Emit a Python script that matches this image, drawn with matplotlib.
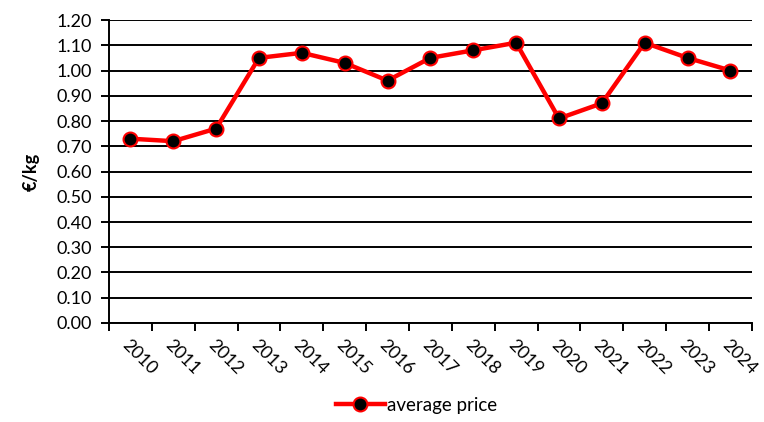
import matplotlib.pyplot as plt
import numpy as np

years = ["2010", "2011", "2012", "2013", "2014", "2015", "2016", "2017",
         "2018", "2019", "2020", "2021", "2022", "2023", "2024"]
avgPrice = [0.73, 0.72, 0.77, 1.05, 1.07, 1.03, 0.96, 1.05,
            1.08, 1.11, 0.81, 0.87, 1.11, 1.05, 1.00]

plt.rcParams['font.family'] = ['Lato', 'DejaVu Sans']

fig = plt.figure(figsize=(7.64, 4.22), dpi=100)
ax = fig.add_axes([0.1427, 0.2346, 0.984 - 0.1427, 0.9526 - 0.2346])

x = np.arange(len(years))
ax.plot(x, avgPrice, color="#ff0000", linewidth=3.2, marker="o",
        markersize=10, markerfacecolor="black", markeredgecolor="#ff0000",
        markeredgewidth=1.5, label="average price", zorder=3)

ax.set_xlim(-0.5, len(years) - 0.5)
ax.set_ylim(0, 1.2)
ax.set_yticks(np.arange(0, 1.21, 0.1))
ax.set_yticklabels(["%.2f" % v for v in np.arange(0, 1.21, 0.1)], fontsize=13)
ax.yaxis.grid(True, color="black", linewidth=1.4)
ax.set_axisbelow(True)

# category boundary ticks, labels in the middle
ax.set_xticks(np.arange(-0.5, len(years), 1.0))
ax.set_xticklabels([])
ax.tick_params(axis="x", which="major", length=6, width=1.4, color="black")
ax.set_xticks(x, minor=True)
ax.set_xticklabels(years, minor=True, rotation=-45, ha="left", va="top",
                   rotation_mode="anchor", fontsize=13)
ax.tick_params(axis="x", which="minor", length=0, pad=10)
ax.tick_params(axis="y", length=6, width=1.4, pad=6)

for s in ["top", "right"]:
    ax.spines[s].set_visible(False)
ax.spines["left"].set_linewidth(1.4)
ax.spines["bottom"].set_linewidth(1.4)

ax.set_ylabel("€/kg", fontsize=13, fontweight="bold", labelpad=12)

fig.legend(loc="lower center", bbox_to_anchor=(0.545, -0.02), frameon=False,
           fontsize=13.5, handlelength=2.6, handletextpad=0.1)

fig.savefig("out.png", dpi=100)
